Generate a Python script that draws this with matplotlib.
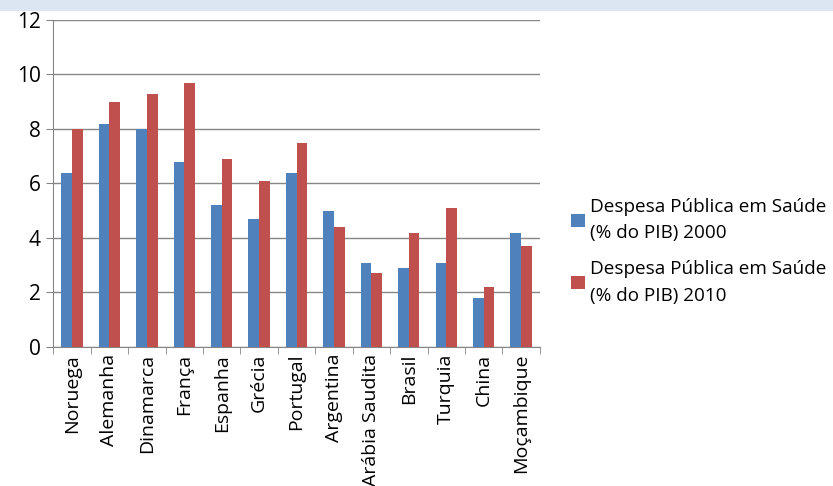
import numpy as np
import matplotlib
matplotlib.use('Agg')
import matplotlib.pyplot as plt
from matplotlib.patches import Rectangle

countries = ['Noruega', 'Alemanha', 'Dinamarca', 'França', 'Espanha', 'Grécia',
             'Portugal', 'Argentina', 'Arábia Saudita', 'Brasil', 'Turquia',
             'China', 'Moçambique']
gasto_2000 = [6.4, 8.2, 8.0, 6.8, 5.2, 4.7, 6.4, 5.0, 3.1, 2.9, 3.1, 1.8, 4.2]
gasto_2010 = [8.0, 9.0, 9.3, 9.7, 6.9, 6.1, 7.5, 4.4, 2.7, 4.2, 5.1, 2.2, 3.7]
labels = ['Despesa Pública em Saúde\n(% do PIB) 2000',
          'Despesa Pública em Saúde\n(% do PIB) 2010']

plt.rcParams['font.family'] = ['Open Sans', 'DejaVu Sans']

fig = plt.figure(figsize=(8.33, 4.86), dpi=100)
# light blue band at the top (slide background)
fig.patches.append(Rectangle((0, 0.98), 1, 0.02, transform=fig.transFigure,
                             color='#dce6f2', zorder=0))

ax = fig.add_axes([0.064, 0.286, 0.584, 0.673])
x = np.arange(len(countries))
w = 0.285
ax.bar(x - w / 2, gasto_2000, w, color='#4f81bd', label=labels[0], zorder=3)
ax.bar(x + w / 2, gasto_2010, w, color='#c0504d', label=labels[1], zorder=3)

ax.set_xlim(-0.5, len(countries) - 0.5)
ax.set_ylim(0, 12)
ax.set_yticks(range(0, 13, 2))
ax.yaxis.grid(True, color='#868686', linewidth=1)
ax.set_axisbelow(True)

ax.set_xticks(x)
ax.set_xticklabels(countries, rotation=90, fontsize=14)
ax.set_xticks(np.arange(-0.5, len(countries)), minor=True)
ax.tick_params(axis='x', which='major', length=0, pad=5)
ax.tick_params(axis='x', which='minor', length=5, color='#868686')
ax.tick_params(axis='y', length=5, color='#868686', labelsize=15, pad=4)

for s in ['top', 'right']:
    ax.spines[s].set_visible(False)
for s in ['left', 'bottom']:
    ax.spines[s].set_color('#868686')

leg = fig.legend(loc='center left', bbox_to_anchor=(0.686, 0.483), frameon=False,
                 fontsize=13.6, handlelength=0.7, handleheight=0.7, handletextpad=0.3,
                 labelspacing=0.95, borderaxespad=0, borderpad=0)
for t in leg.get_texts():
    t.set_linespacing(1.6)

fig.savefig('out.png', dpi=100)
